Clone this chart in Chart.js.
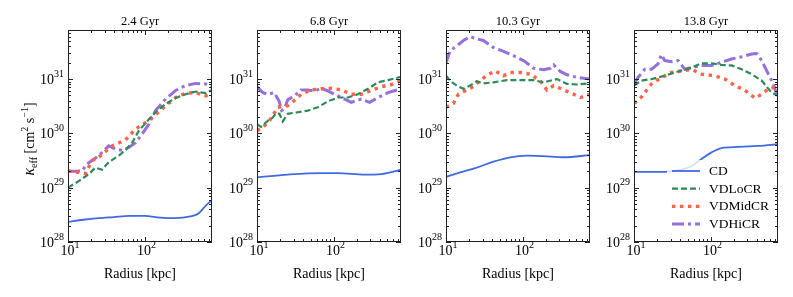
<!DOCTYPE html>
<html>
<head>
<meta charset="utf-8">
<script src="https://cdn.jsdelivr.net/npm/chart.js@4.4.1/dist/chart.umd.min.js"></script>
<style>
  html, body { margin: 0; padding: 0; background: #fff; }
  #wrap { position: relative; width: 793px; height: 297px; }
  #wrap canvas { position: absolute; left: 0; top: 0; }
</style>
</head>
<body>
<div id="wrap">
  <canvas id="p0" width="793" height="297"></canvas>
  <canvas id="p1" width="793" height="297"></canvas>
  <canvas id="p2" width="793" height="297"></canvas>
  <canvas id="p3" width="793" height="297"></canvas>
</div>
<script>
// panel titles and series names
const titles = ['2.4 Gyr', '6.8 Gyr', '10.3 Gyr', '13.8 Gyr'];
const seriesNames = ['CD', 'VDLoCR', 'VDMidCR', 'VDHiCR'];
const xTicks = [10, 100];
const yTicks = [1e28, 1e29, 1e30, 1e31];

// [radius kpc, kappa_eff cm^2/s]
// 2.4 Gyr
const cd24 = [[10, 2.34e28], [15.9, 2.57e28], [25.2, 2.75e28], [39.6, 2.88e28], [63, 3.02e28], [100, 3.02e28], [159, 2.82e28], [252, 2.75e28], [396, 2.95e28], [500, 3.31e28], [630, 4.68e28], [760, 5.9e28]];
const lo24 = [[10, 1.0e29], [13.8, 1.32e29], [18.7, 1.78e29], [22.8, 2.34e29], [27.9, 2.14e29], [34.1, 2.95e29], [46.1, 3.89e29], [56.4, 4.9e29], [68.9, 6.76e29], [84.3, 1.12e30], [114, 1.82e30], [139, 2.45e30], [188, 3.47e30], [255, 4.47e30], [344, 5.25e30], [466, 5.89e30], [630, 5.5e30], [760, 6.31e30]];
const mid24 = [[10, 2.04e29], [13.8, 1.91e29], [16.9, 1.82e29], [20.6, 3.16e29], [25.2, 3.63e29], [37.7, 5.89e29], [56.4, 7.59e29], [76.2, 1.2e30], [103, 1.58e30], [139, 2.19e30], [188, 3.24e30], [255, 4.57e30], [344, 5.5e30], [466, 5.62e30], [630, 4.9e30], [760, 5.5e30]];
const hi24 = [[10, 2.0e29], [12.5, 2.0e29], [15.3, 2.04e29], [17.7, 2.75e29], [20.6, 3.16e29], [25.2, 3.89e29], [34.1, 5.89e29], [41.7, 5.13e29], [51, 4.9e29], [62.3, 5.5e29], [76.2, 6.76e29], [93.2, 9.77e29], [114, 1.48e30], [139, 2.63e30], [188, 4.27e30], [255, 6.17e30], [344, 7.59e30], [466, 8.32e30], [630, 8.13e30], [760, 7.08e30]];
// 6.8 Gyr
const cd68 = [[10, 1.55e29], [25.2, 1.74e29], [68.9, 1.86e29], [114, 1.86e29], [255, 1.74e29], [421, 1.78e29], [760, 2.14e29]];
const lo68 = [[10, 1.48e30], [11.3, 1.32e30], [13.8, 1.7e30], [16, 1.95e30], [17.7, 2.34e30], [19.6, 2.29e30], [21.7, 1.66e30], [25.2, 2.29e30], [34.1, 2.45e30], [46.1, 2.63e30], [62.3, 3.02e30], [84.3, 3.89e30], [114, 4.57e30], [154, 4.57e30], [208, 5.25e30], [282, 6.61e30], [381, 8.71e30], [515, 9.55e30], [760, 1.1e31]];
const mid68 = [[10, 1.12e30], [11.9, 1.29e30], [14.5, 1.7e30], [18.7, 3.02e30], [25.2, 3.24e30], [32.4, 4.27e30], [37.7, 5.25e30], [51, 6.31e30], [68.9, 6.61e30], [93.2, 6.76e30], [126, 6.31e30], [170, 5.25e30], [230, 5.25e30], [311, 6.17e30], [421, 7.24e30], [569, 7.94e30], [760, 9.33e30]];
const hi68 = [[10, 7.24e30], [11.9, 5.62e30], [13.8, 5.25e30], [16.9, 5.62e30], [19.6, 3.8e30], [21, 2.63e30], [22.8, 2.82e30], [25.2, 4.17e30], [30.8, 4.9e30], [37.7, 6.31e30], [46.1, 6.31e30], [56.4, 6.03e30], [68.9, 6.76e30], [84.3, 6.03e30], [103, 5.25e30], [126, 4.57e30], [170, 3.72e30], [230, 4.27e30], [296, 3.72e30], [381, 4.57e30], [515, 5.62e30], [760, 6.61e30]];
// 10.3 Gyr
const cd103 = [[10, 1.58e29], [15.3, 1.91e29], [25.2, 2.34e29], [41.7, 3.02e29], [68.9, 3.63e29], [114, 3.89e29], [188, 3.8e29], [344, 3.63e29], [760, 3.98e29]];
const lo103 = [[10, 1.17e31], [11.3, 9.33e30], [13.8, 7.59e30], [16.9, 6.61e30], [20.6, 7.59e30], [25.2, 9.12e30], [30.8, 8.32e30], [41.7, 8.71e30], [62.3, 9.55e30], [93.2, 9.55e30], [139, 9.55e30], [188, 8.71e30], [282, 1.0e31], [381, 8.13e30], [515, 7.94e30], [760, 8.32e30]];
const mid103 = [[10, 3.02e30], [12.5, 3.55e30], [14.5, 5.25e30], [18.7, 6.31e30], [22.8, 7.24e30], [27.9, 9.33e30], [34.1, 1.17e31], [43.9, 1.41e31], [56.4, 1.15e31], [68.9, 1.32e31], [93.2, 1.32e31], [126, 1.23e31], [170, 9.33e30], [208, 6.31e30], [255, 7.59e30], [344, 6.31e30], [466, 5.25e30], [569, 4.57e30], [760, 5.25e30]];
const hi103 = [[10, 1.95e31], [11.3, 3.31e31], [13.8, 4.07e31], [16.9, 5.13e31], [20.6, 6.03e31], [25.2, 5.5e31], [30.8, 5.13e31], [41.7, 3.8e31], [56.4, 3.24e31], [76.2, 2.69e31], [103, 2.19e31], [139, 1.58e31], [188, 1.48e31], [230, 1.58e31], [255, 1.82e31], [311, 1.38e31], [381, 1.2e31], [515, 1.07e31], [760, 1.0e31]];
// 13.8 Gyr
const cd138 = [[10, 1.95e29], [25.2, 1.95e29], [41.7, 2.14e29], [56.4, 2.51e29], [76.2, 3.39e29], [103, 4.47e29], [139, 5.37e29], [230, 5.62e29], [421, 5.89e29], [760, 6.31e29]];
const lo138 = [[10, 7.59e30], [12.5, 9.33e30], [16.9, 1.0e31], [25.2, 1.15e31], [37.7, 1.38e31], [56.4, 1.62e31], [76.2, 1.95e31], [103, 1.95e31], [139, 1.82e31], [188, 1.78e31], [255, 1.51e31], [344, 1.23e31], [466, 9.33e30], [569, 6.61e30], [630, 5.62e30], [760, 4.9e30]];
const mid138 = [[10, 3.55e30], [12.5, 4.68e30], [16.9, 8.13e30], [22.8, 1.07e31], [30.8, 1.32e31], [41.7, 1.41e31], [56.4, 1.51e31], [76.2, 1.23e31], [114, 1.15e31], [154, 1.0e31], [208, 7.59e30], [282, 6.17e30], [381, 4.47e30], [466, 5.25e30], [569, 6.61e30], [760, 7.24e30]];
const hi138 = [[10, 8.13e30], [11.3, 1.07e31], [13.8, 1.51e31], [16.9, 1.51e31], [20.6, 1.91e31], [22.8, 2.82e31], [25.2, 2.19e31], [30.8, 2.09e31], [37.7, 2.19e31], [46.1, 1.51e31], [56.4, 1.62e31], [76.2, 1.78e31], [103, 1.78e31], [139, 2.04e31], [188, 2.34e31], [255, 2.57e31], [344, 2.88e31], [401, 2.95e31], [466, 2.19e31], [569, 1.23e31], [662, 8.13e30], [760, 4.27e30]];

const panels = [
  [cd24, lo24, mid24, hi24],
  [cd68, lo68, mid68, hi68],
  [cd103, lo103, mid103, hi103],
  [cd138, lo138, mid138, hi138]
];

const styles = [
  { color: '#4169e1', width: 1.8, dash: [], tension: 0.4 },
  { color: '#2e8b57', width: 2.2, dash: [6, 3], tension: 0 },
  { color: '#ff6347', width: 3.4, dash: [3.4, 4.6], tension: 0 },
  { color: '#9370db', width: 3, dash: [12, 4, 3, 4], tension: 0 }
];

const panelLeft = [68, 257, 446, 634];
const panelWidth = 144;
const plotTop = 30, plotBottom = 242;
const serif = '"Liberation Serif", "DejaVu Serif", serif';

function drawPow(ctx, exp, x, y, align) {
  ctx.font = '14px ' + serif;
  const wb = ctx.measureText('10').width;
  ctx.font = '10px ' + serif;
  const we = ctx.measureText(exp).width;
  let x0 = x;
  if (align === 'right') x0 = x - wb - we;
  if (align === 'center') x0 = x - (wb + we) / 2;
  ctx.textAlign = 'left';
  ctx.textBaseline = 'alphabetic';
  ctx.font = '14px ' + serif;
  ctx.fillText('10', x0, y + 5);
  ctx.font = '10px ' + serif;
  ctx.fillText(exp, x0 + wb, y - 2.5);
}

const panelPlugin = {
  id: 'panelDeco',
  afterDraw(chart, args, opts) {
    const ctx = chart.ctx;
    const a = chart.chartArea;
    const xs = chart.scales.x, ys = chart.scales.y;
    ctx.save();
    ctx.fillStyle = '#000';

    // legend
    if (opts.legend) {
      ctx.fillStyle = 'rgba(255,255,255,0.8)';
      ctx.fillRect(667, 160, 110, 73);
      seriesNames.forEach((name, i) => {
        const s = styles[i];
        const y = 171 + i * 17.7;
        ctx.strokeStyle = s.color;
        ctx.lineWidth = s.width;
        ctx.setLineDash(s.dash);
        ctx.beginPath();
        ctx.moveTo(672, y);
        ctx.lineTo(700, y);
        ctx.stroke();
        ctx.setLineDash([]);
        ctx.fillStyle = '#000';
        ctx.font = '13.5px ' + serif;
        ctx.textAlign = 'left';
        ctx.textBaseline = 'middle';
        ctx.fillText(name, 709, y + 0.5);
      });
    }

    // frame
    ctx.strokeStyle = '#222';
    ctx.lineWidth = 1;
    ctx.strokeRect(a.left + 0.5, a.top + 0.5, a.right - a.left - 1, a.bottom - a.top - 1);

    // inward ticks, all four sides
    ctx.beginPath();
    for (let d = 10; d <= 1000; d *= 10) {
      for (let m = 1; m <= 9; m++) {
        const v = d * m;
        if (v < xs.min || v > xs.max) continue;
        const px = Math.round(xs.getPixelForValue(v)) + 0.5;
        const len = m === 1 ? 5 : 3;
        ctx.moveTo(px, a.bottom); ctx.lineTo(px, a.bottom - len);
        ctx.moveTo(px, a.top); ctx.lineTo(px, a.top + len);
      }
    }
    for (let d = 1e28; d <= 1e31; d *= 10) {
      for (let m = 1; m <= 9; m++) {
        const v = d * m;
        if (v < ys.min || v > ys.max) continue;
        const py = Math.round(ys.getPixelForValue(v)) + 0.5;
        const len = m === 1 ? 5 : 3;
        ctx.moveTo(a.left, py); ctx.lineTo(a.left + len, py);
        ctx.moveTo(a.right, py); ctx.lineTo(a.right - len, py);
      }
    }
    ctx.stroke();

    // tick labels
    ctx.fillStyle = '#000';
    xTicks.forEach(v => {
      drawPow(ctx, String(Math.round(Math.log10(v))), xs.getPixelForValue(v) + 2, 250, 'center');
    });
    yTicks.forEach(v => {
      drawPow(ctx, String(Math.round(Math.log10(v))), a.left - 4, ys.getPixelForValue(v), 'right');
    });

    // title and x label
    const cx = (a.left + a.right) / 2;
    ctx.textAlign = 'center';
    ctx.textBaseline = 'alphabetic';
    ctx.font = '12.5px ' + serif;
    ctx.fillText(opts.title, cx, 25);
    ctx.font = '14px ' + serif;
    ctx.fillText('Radius [kpc]', cx, 278);

    // y label on first panel
    if (opts.yLabel) {
      ctx.translate(29, 139);
      ctx.rotate(-Math.PI / 2);
      const parts = [
        ['κ', 'italic 16px ' + serif, 0],
        ['eff', '10px ' + serif, 3],
        [' [cm', '14px ' + serif, 0],
        ['2', '10px ' + serif, -6],
        [' s', '14px ' + serif, 0],
        ['−1', '10px ' + serif, -6],
        [']', '14px ' + serif, 0]
      ];
      let total = 0;
      parts.forEach(p => { ctx.font = p[1]; total += ctx.measureText(p[0]).width; });
      let x = -total / 2;
      ctx.textAlign = 'left';
      parts.forEach(p => {
        ctx.font = p[1];
        ctx.fillText(p[0], x, 5 + p[2]);
        x += ctx.measureText(p[0]).width;
      });
    }
    ctx.restore();
  }
};

panels.forEach((series, p) => {
  new Chart(document.getElementById('p' + p), {
    type: 'line',
    data: {
      datasets: series.map((pts, i) => ({
        label: seriesNames[i],
        data: pts.map(q => ({ x: q[0], y: q[1] })),
        borderColor: styles[i].color,
        borderWidth: styles[i].width,
        borderDash: styles[i].dash,
        borderCapStyle: 'butt',
        tension: styles[i].tension,
        cubicInterpolationMode: i === 0 ? 'monotone' : 'default',
        pointRadius: 0,
        fill: false
      }))
    },
    options: {
      responsive: false,
      animation: false,
      devicePixelRatio: 1,
      layout: {
        padding: {
          left: panelLeft[p],
          right: 793 - panelLeft[p] - panelWidth,
          top: plotTop,
          bottom: 297 - plotBottom
        }
      },
      scales: {
        x: { type: 'logarithmic', min: 10, max: 760, display: false },
        y: { type: 'logarithmic', min: 1e28, max: 8e31, display: false }
      },
      plugins: {
        legend: { display: false },
        tooltip: { enabled: false },
        panelDeco: { title: titles[p], yLabel: p === 0, legend: p === 3 }
      }
    },
    plugins: [panelPlugin]
  });
});
</script>
</body>
</html>
